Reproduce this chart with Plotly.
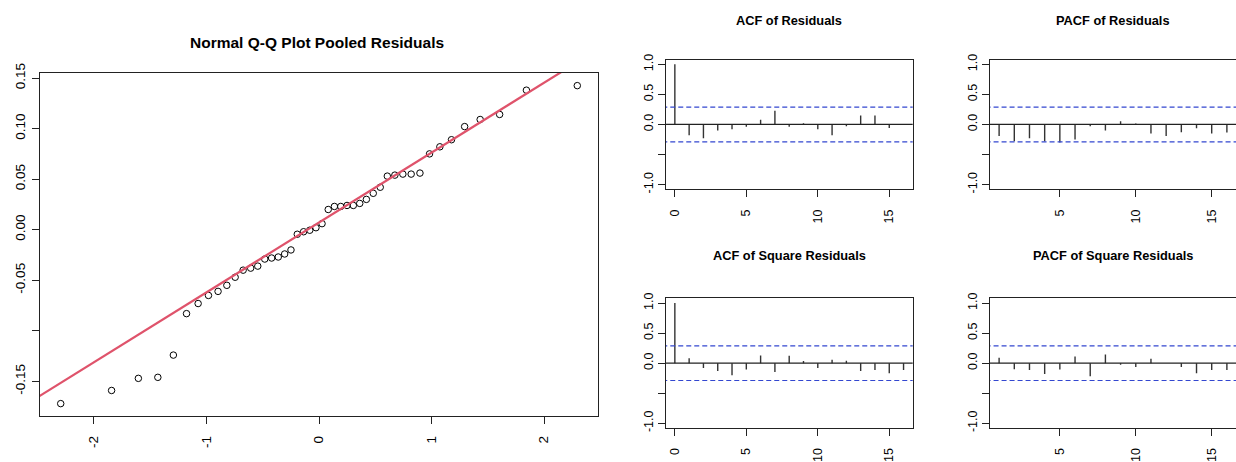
import numpy as np
import plotly.graph_objects as go

# ---------------- data ----------------
qq_theoretical = [-2.295, -1.843, -1.605, -1.432, -1.294, -1.177, -1.074, -0.982, -0.897,
                  -0.819, -0.745, -0.674, -0.607, -0.544, -0.482, -0.421, -0.362, -0.305,
                  -0.249, -0.193, -0.137, -0.082, -0.027,
                  0.027, 0.082, 0.137, 0.193, 0.249, 0.305, 0.362, 0.421, 0.482, 0.544,
                  0.607, 0.674, 0.745, 0.819, 0.897, 0.982, 1.074, 1.177, 1.294, 1.432,
                  1.605, 1.843, 2.295]
qq_sample = [-0.172, -0.159, -0.147, -0.146, -0.124, -0.083, -0.073, -0.065, -0.061,
             -0.055, -0.047, -0.040, -0.038, -0.036, -0.029, -0.028, -0.027, -0.024,
             -0.020, -0.0045, -0.002, -0.0005, 0.002,
             0.006, 0.020, 0.023, 0.023, 0.024, 0.024, 0.026, 0.030, 0.036, 0.042,
             0.053, 0.054, 0.055, 0.055, 0.056, 0.075, 0.082, 0.089, 0.102, 0.109,
             0.114, 0.138, 0.1425]

n_obs = 46

acf_lags = list(range(0, 17))
acf_res = [1.0, -0.18, -0.23, -0.10, -0.08, -0.04, 0.08, 0.23, -0.04, 0.02, -0.08,
           -0.18, -0.03, 0.15, 0.15, -0.06, 0.005]
pacf_lags = list(range(1, 17))
pacf_res = [-0.19, -0.28, -0.23, -0.28, -0.30, -0.25, -0.03, -0.10, 0.055, 0.018,
            -0.15, -0.19, -0.13, -0.065, -0.15, -0.135]
acf_sq = [1.0, 0.083, -0.08, -0.13, -0.20, -0.105, 0.127, -0.148, 0.124, 0.037, -0.08,
          0.055, 0.04, -0.13, -0.115, -0.167, -0.113]
pacf_sq = [0.088, -0.10, -0.115, -0.18, -0.105, 0.11, -0.22, 0.146, -0.027, -0.065,
           0.072, 0.0, -0.065, -0.168, -0.115, -0.115]

qq_title = "Normal Q-Q Plot Pooled Residuals"
panel_titles = ["ACF of Residuals", "PACF of Residuals",
                "ACF of Square Residuals", "PACF of Square Residuals"]

# ---------------- styling ----------------
W, H = 1236, 462
TICK_FONT = "Liberation Sans, Arial, sans-serif"
TITLE_FONT = "Liberation Sans, Arial, sans-serif"
LINE_COL = "#222222"
RED = "#DF536B"
BLUE = "#3347D0"


def dom_x(a, b):
    return [a / W, min(b / W, 1.0)]


def dom_y(top, bottom):
    return [1 - bottom / H, 1 - top / H]


fig = go.Figure()

# ---- QQ plot ----
fig.add_trace(go.Scatter(x=qq_theoretical, y=qq_sample, mode="markers",
                         marker=dict(symbol="circle-open", size=6.5,
                                     line=dict(color="black", width=1), color="black"),
                         xaxis="x", yaxis="y", showlegend=False, hoverinfo="skip"))
q1, q3 = np.quantile(qq_sample, [0.25, 0.75])
z1, z3 = -0.6744898, 0.6744898
slope = (q3 - q1) / (z3 - z1)
intercept = q1 - slope * z1
line_x = np.array([-3.0, 3.0])
fig.add_trace(go.Scatter(x=line_x, y=intercept + slope * line_x, mode="lines",
                         line=dict(color=RED, width=2.2), xaxis="x", yaxis="y",
                         showlegend=False, hoverinfo="skip"))

# ---- correlogram panels ----
clim = 1.96 / np.sqrt(n_obs)
panels = [
    (acf_lags, acf_res, "x2", "y2"),
    (pacf_lags, pacf_res, "x3", "y3"),
    (acf_lags, acf_sq, "x4", "y4"),
    (pacf_lags, pacf_sq, "x5", "y5"),
]
for lags, vals, xa, ya in panels:
    sx, sy = [], []
    for l, v in zip(lags, vals):
        sx += [l, l, None]
        sy += [0, v, None]
    fig.add_trace(go.Scatter(x=sx, y=sy, mode="lines", line=dict(color="#333333", width=1.4),
                             xaxis=xa, yaxis=ya, showlegend=False, hoverinfo="skip"))
    span = np.array([-2.0, 20.0])
    fig.add_trace(go.Scatter(x=span, y=[0, 0], mode="lines",
                             line=dict(color=LINE_COL, width=1.2),
                             xaxis=xa, yaxis=ya, showlegend=False, hoverinfo="skip"))
    for s in (clim, -clim):
        fig.add_trace(go.Scatter(x=span, y=[s, s], mode="lines",
                                 line=dict(color=BLUE, width=1.2, dash="5px,3px"),
                                 xaxis=xa, yaxis=ya, showlegend=False, hoverinfo="skip"))

axis_common = dict(showgrid=False, zeroline=False, showline=True, linecolor=LINE_COL,
                   linewidth=1.2, ticks="outside", ticklen=7, tickcolor=LINE_COL,
                   tickwidth=1.2, tickangle=-90, fixedrange=True)

qq_xtick = [-2, -1, 0, 1, 2]
qq_ytick = [-0.15, -0.10, -0.05, 0.0, 0.05, 0.10, 0.15]
qq_ytext = ["-0.15", "", "-0.05", "0.00", "0.05", "0.10", "0.15"]
cf_ytick = [-1.0, -0.5, 0.0, 0.5, 1.0]
cf_ytext = ["-1.0", "", "0.0", "0.5", "1.0"]

layout = dict(
    width=W, height=H, margin=dict(l=0, r=0, t=0, b=0),
    paper_bgcolor="white", plot_bgcolor="white",
    font=dict(family=TICK_FONT, color="black"),
    xaxis=dict(axis_common, domain=dom_x(40, 598), range=[-2.479, 2.479], mirror=True,
               tickvals=qq_xtick, ticktext=[str(v) for v in qq_xtick],
               tickfont=dict(size=13.5), ticklabelstandoff=6, anchor="y"),
    yaxis=dict(axis_common, domain=dom_y(65, 420), range=[-0.1846, 0.1551], mirror=True,
               tickvals=qq_ytick, ticktext=qq_ytext, tickfont=dict(size=13.5),
               ticklabelstandoff=2, anchor="x"),
)

boxes = {
    2: (665.7, 912.7, 51.2, 185.4, [-0.64, 16.64], [0, 5, 10, 15], True),
    3: (990, 1238, 51.2, 185.4, [0.4, 16.6], [5, 10, 15], False),
    4: (665.7, 912.7, 298, 432, [-0.64, 16.64], [0, 5, 10, 15], True),
    5: (990, 1238, 298, 432, [0.4, 16.6], [5, 10, 15], False),
}
for k, (x0, x1, y0, y1, xr, xt, ymirror) in boxes.items():
    layout[f"xaxis{k}"] = dict(axis_common, domain=dom_x(x0, x1), range=xr, mirror=True,
                               tickvals=xt, ticktext=[str(v) for v in xt],
                               tickfont=dict(size=12.5), ticklabelstandoff=7, anchor=f"y{k}")
    layout[f"yaxis{k}"] = dict(axis_common, domain=dom_y(y0, y1), range=[-1.08, 1.08],
                               mirror=ymirror, tickvals=cf_ytick, ticktext=cf_ytext,
                               tickfont=dict(size=12.5), anchor=f"x{k}")

fig.update_layout(**layout)

# titles
fig.add_annotation(text=f"<b>{qq_title}</b>", x=317 / W, y=1 - 34 / H, xref="paper",
                   yref="paper", showarrow=False, font=dict(family=TITLE_FONT, size=15.5),
                   xanchor="center", yanchor="middle")
title_pos = [(789, 11), (1113, 11), (789, 254), (1113, 254)]
for t, (cx, cy) in zip(panel_titles, title_pos):
    fig.add_annotation(text=f"<b>{t}</b>", x=cx / W, y=1 - cy / H, xref="paper",
                       yref="paper", showarrow=False, font=dict(family=TITLE_FONT, size=12.8),
                       xanchor="center", yanchor="middle")

fig.write_html("out.html", config={"displayModeBar": False},
               post_script="document.body.style.margin='0px';document.body.style.padding='0px';")
